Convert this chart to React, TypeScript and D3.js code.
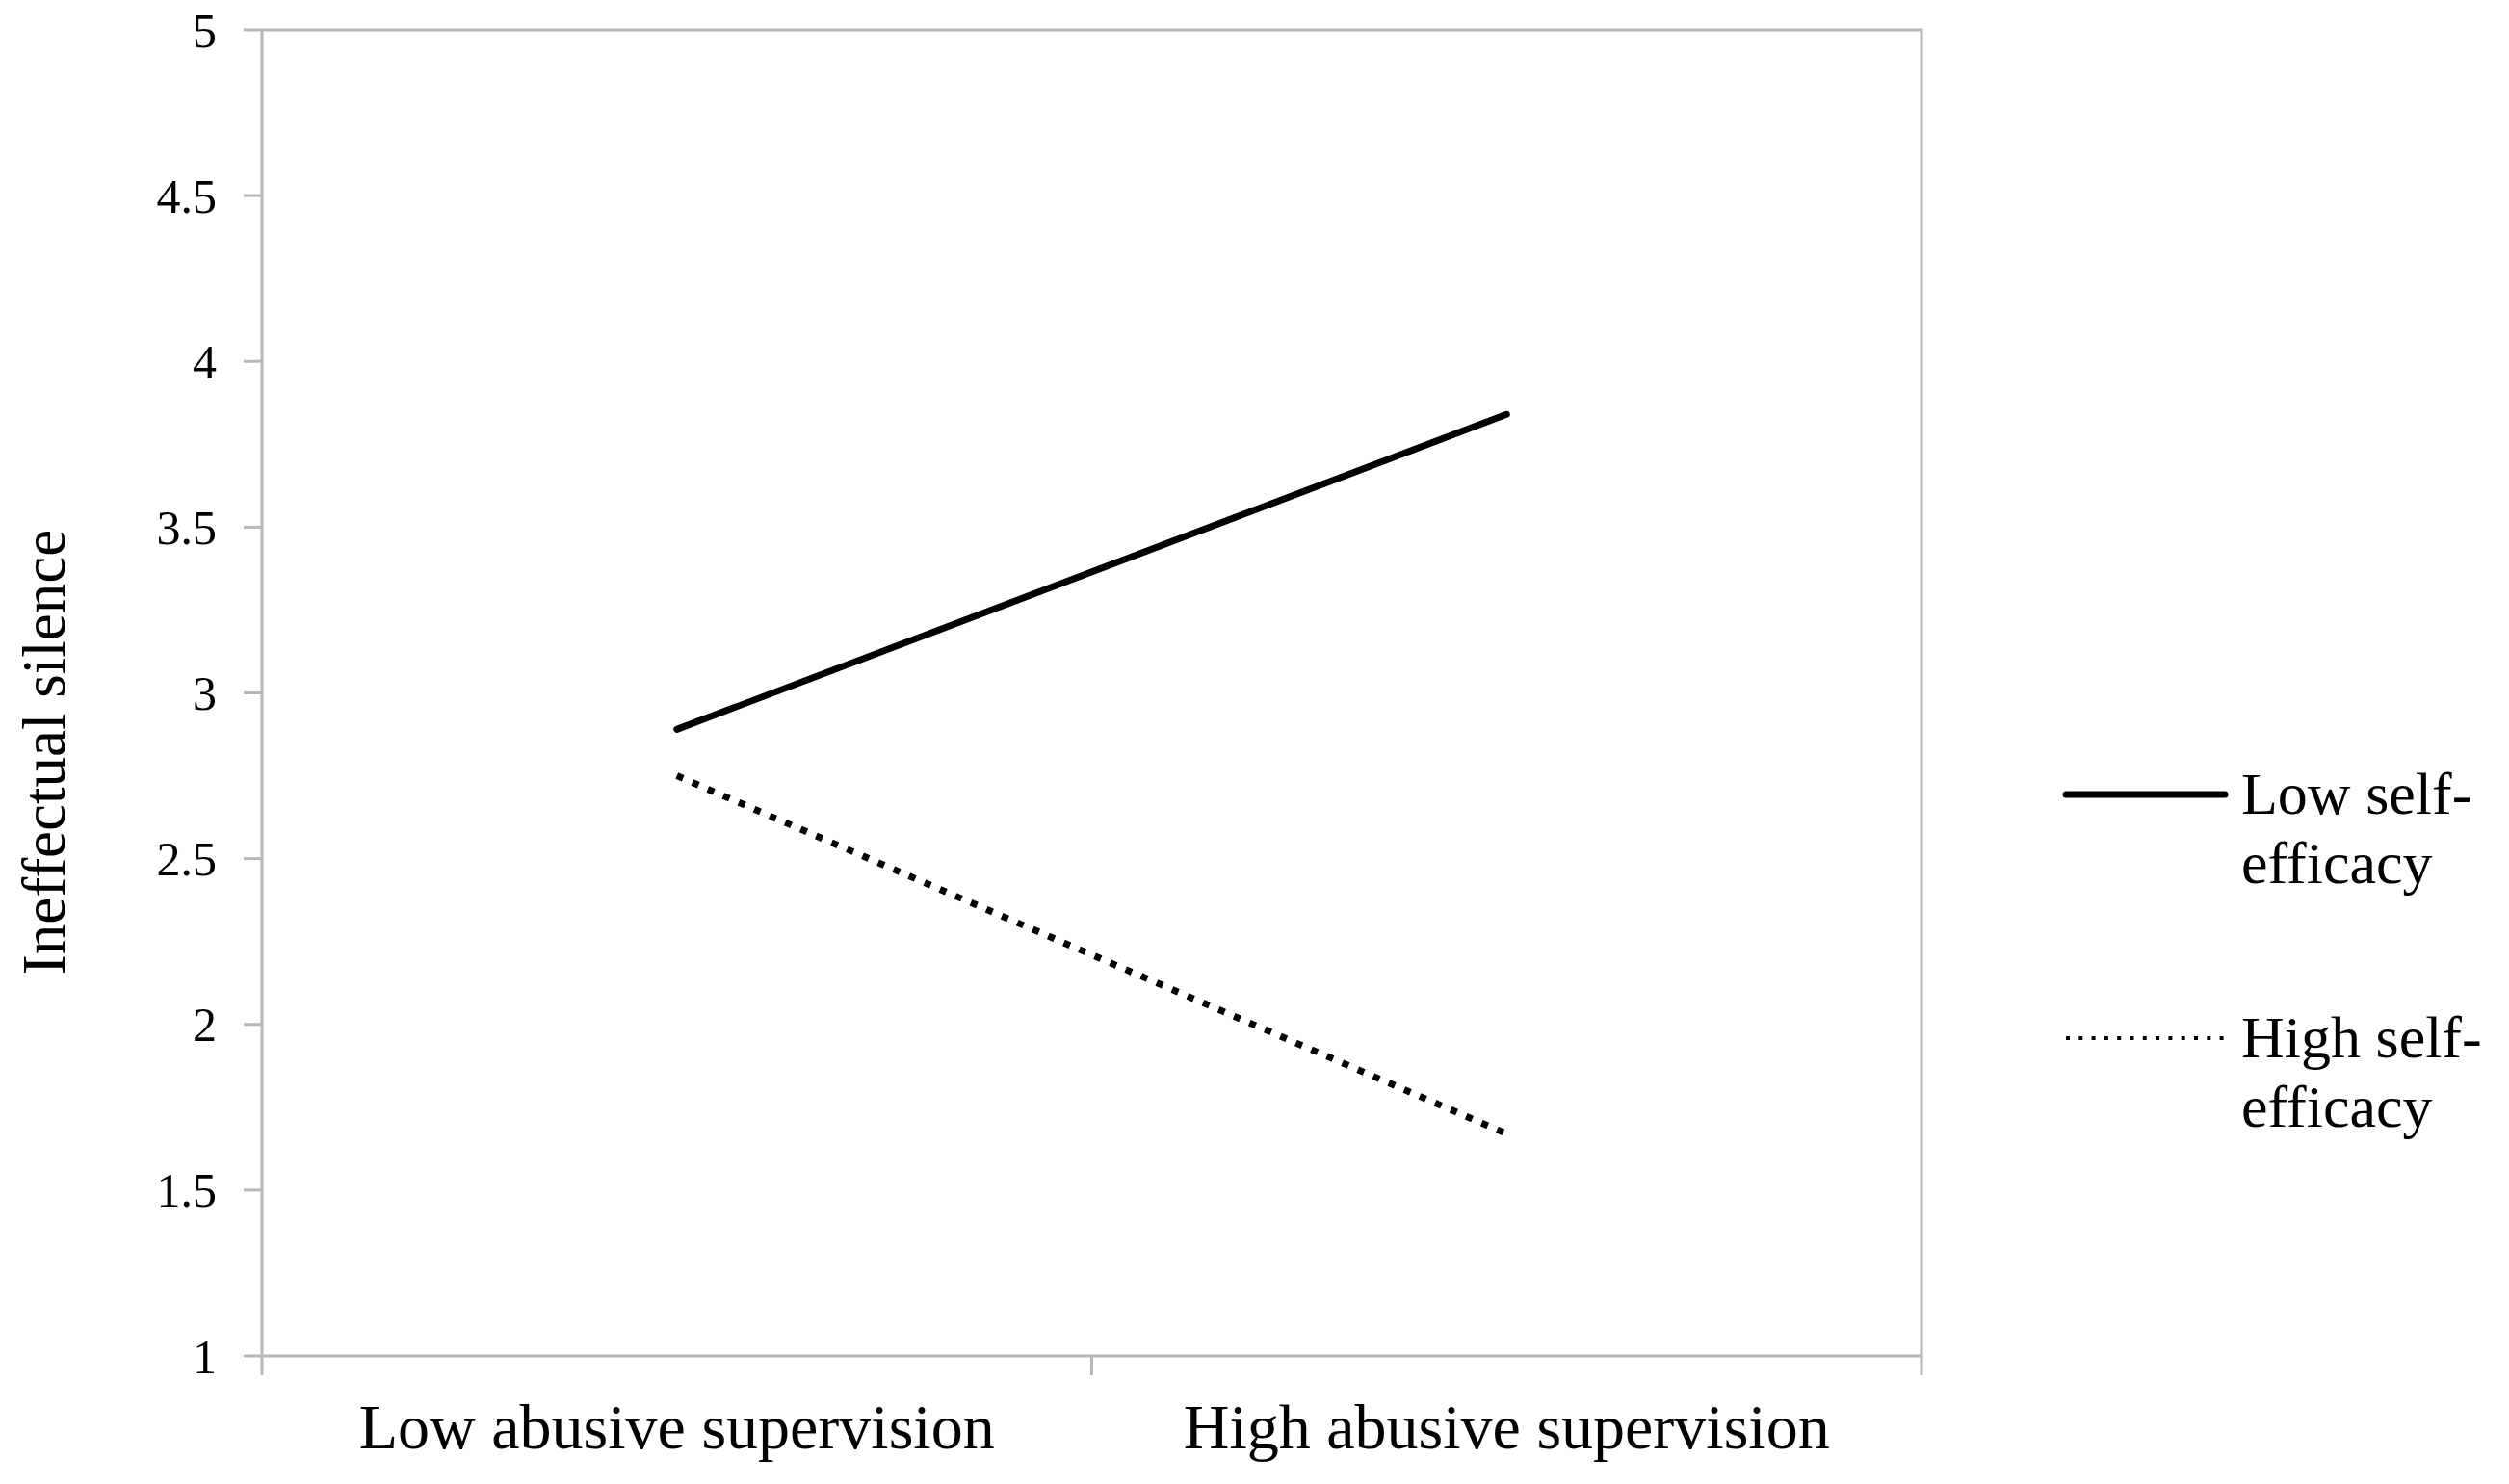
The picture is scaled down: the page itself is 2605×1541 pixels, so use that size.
import React from 'react';
import * as d3 from 'd3';

const categories = ['Low abusive supervision', 'High abusive supervision'];
const lowSelfEfficacy = [2.89, 3.84];
const highSelfEfficacy = [2.75, 1.67];
const yTicks = [1, 1.5, 2, 2.5, 3, 3.5, 4, 4.5, 5];
const seriesNames = [['Low self-', 'efficacy'], ['High self-', 'efficacy']];

const W = 2605;
const H = 1541;
const margin = { top: 31, right: 610, bottom: 133, left: 272 };
const font = '"Liberation Serif", "Times New Roman", serif';
const axisGrey = '#b7b7b7';

const App = () => {
  const x = d3.scaleBand()
    .domain(categories)
    .range([margin.left, W - margin.right]);
  const y = d3.scaleLinear()
    .domain([1, 5])
    .range([H - margin.bottom, margin.top]);

  const cx = (c: string) => (x(c) as number) + x.bandwidth() / 2;
  const line = d3.line<number>()
    .x((_, i) => cx(categories[i]))
    .y(d => y(d));

  const x0 = margin.left;
  const x1 = W - margin.right;
  const yb = y(1);
  const yt = y(5);

  // legend placement
  const legX0 = 2145;
  const legX1 = 2310;
  const legTextX = 2327;
  const legRows = [825, 1078];

  return (
    <svg width={W} height={H} style={{ position: 'absolute', left: 0, top: 0, background: '#fff' }}>
      {/* plot frame */}
      <rect x={x0} y={yt} width={x1 - x0} height={yb - yt} fill="none" stroke={axisGrey} strokeWidth={3} />

      {/* y ticks */}
      {yTicks.map(t => (
        <g key={t}>
          <line x1={x0 - 19} x2={x0} y1={y(t)} y2={y(t)} stroke={axisGrey} strokeWidth={3} />
          <text x={x0 - 47} y={y(t)} dy="0.35em" textAnchor="end" fontFamily={font} fontSize={50} fill="#000">
            {t}
          </text>
        </g>
      ))}

      {/* x ticks at band edges */}
      {[x0, x0 + x.bandwidth(), x1].map((v, i) => (
        <line key={i} x1={v} x2={v} y1={yb} y2={yb + 20} stroke={axisGrey} strokeWidth={3} />
      ))}

      {/* category labels */}
      {categories.map(c => (
        <text key={c} x={cx(c)} y={1504} textAnchor="middle" fontFamily={font} fontSize={66} fill="#000">
          {c}
        </text>
      ))}

      {/* y axis title */}
      <text
        transform={`translate(67, 781) rotate(-90)`}
        textAnchor="middle"
        fontFamily={font}
        fontSize={63}
        fill="#000"
      >
        Ineffectual silence
      </text>

      {/* series */}
      <path d={line(lowSelfEfficacy) as string} fill="none" stroke="#000" strokeWidth={7} strokeLinecap="round" />
      <path d={line(highSelfEfficacy) as string} fill="none" stroke="#000" strokeWidth={7} strokeDasharray="7 10.5" />

      {/* legend */}
      <line x1={legX0} x2={legX1} y1={legRows[0]} y2={legRows[0]} stroke="#000" strokeWidth={7} strokeLinecap="round" />
      <line x1={legX0} x2={legX1} y1={legRows[1]} y2={legRows[1]} stroke="#000" strokeWidth={4} strokeDasharray="4 9.3" />
      {seriesNames.map((lines, i) => (
        <text key={i} x={legTextX} y={legRows[i] + 20} fontFamily={font} fontSize={62} fill="#000">
          {lines.map((l, j) => (
            <tspan key={j} x={legTextX} dy={j === 0 ? 0 : 72}>{l}</tspan>
          ))}
        </text>
      ))}
    </svg>
  );
};

export default App;
